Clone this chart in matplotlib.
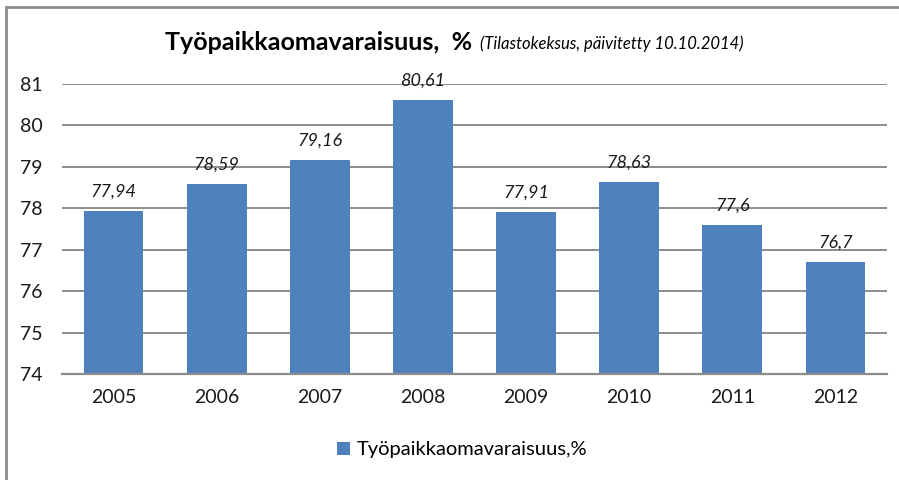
import matplotlib
matplotlib.use('Agg')
import matplotlib.pyplot as plt
from matplotlib.patches import Rectangle

years = ['2005', '2006', '2007', '2008', '2009', '2010', '2011', '2012']
values = [77.94, 78.59, 79.16, 80.61, 77.91, 78.63, 77.6, 76.7]
labels = ['77,94', '78,59', '79,16', '80,61', '77,91', '78,63', '77,6', '76,7']
series_name = 'Työpaikkaomavaraisuus,%'

plt.rcParams['font.family'] = ['Lato', 'DejaVu Sans']

fig = plt.figure(figsize=(8.99, 4.80), dpi=100)
ax = fig.add_axes([62/899, 1-374/480, (887-62)/899, (374-84)/480])

x = list(range(len(years)))
bars = ax.bar(x, values, width=0.58, color='#4F81BD', zorder=2, label=series_name)
for xi, v, lab in zip(x, values, labels):
    ax.text(xi, v + 0.28, lab, ha='center', va='bottom', fontsize=13,
            style='italic', color='#1a1a1a')

ax.set_xlim(-0.5, len(years) - 0.5)
ax.set_ylim(74, 81)
ax.set_yticks(range(74, 82))
ax.set_xticks(x)
ax.set_xticklabels(years)
ax.tick_params(axis='both', length=0, labelsize=14, colors='#1a1a1a')
ax.tick_params(axis='y', pad=14)
ax.tick_params(axis='x', pad=11)
ax.yaxis.grid(True, color='#8c8c8c', linewidth=1.4, zorder=0)
ax.set_axisbelow(True)
for s in ['top', 'right', 'left']:
    ax.spines[s].set_visible(False)
ax.spines['bottom'].set_color('#8c8c8c')
ax.spines['bottom'].set_linewidth(1.6)

# title in two parts, second part placed right after the first
t1 = fig.text(165/899, 1-43/480, 'Työpaikkaomavaraisuus,  %', fontsize=18,
              fontweight='bold', ha='left', va='center', color='#000000')
fig.canvas.draw()
bb = t1.get_window_extent(fig.canvas.get_renderer())
fig.text((bb.x1 + 8)/899, 1-44/480, '(Tilastokeksus, päivitetty 10.10.2014)',
         fontsize=12, style='italic', ha='left', va='center', color='#000000')

leg = fig.legend(handles=[bars], labels=[series_name], loc='center',
                 bbox_to_anchor=(462/899, 1-450/480), frameon=False,
                 fontsize=14.5, handlelength=0.65, handleheight=0.65, handletextpad=0.3)

# outer chart border
fig.patches.append(Rectangle((6/899, -0.1), 1.2, 1.1 - 7/480, transform=fig.transFigure,
                             fill=False, edgecolor='#8c8c8c', linewidth=2))

plt.savefig('out.png', dpi=100)
